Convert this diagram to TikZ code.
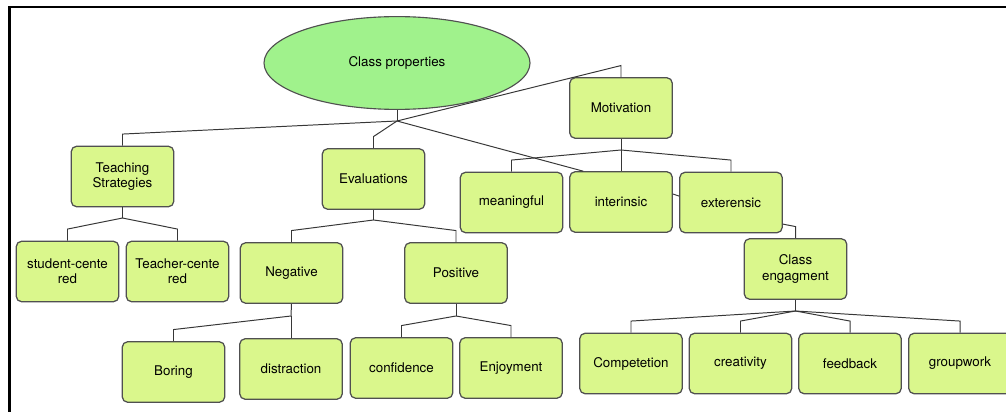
\documentclass[tikz,border=0pt]{standalone}
\usepackage{fontspec}
\setmainfont{TeX Gyre Heros}
\usepackage{tikz}
\usetikzlibrary{shapes.geometric}
\usetikzlibrary{calc}
\definecolor{boxfill}{RGB}{218,247,140}
\definecolor{ovalfill}{RGB}{160,242,140}
\definecolor{boxline}{RGB}{80,80,80}
\definecolor{wire}{RGB}{55,55,55}
\newcommand{\branch}[2]{\draw[link] (#1) -- ([yshift=2.9mm]#2.north) -- (#2.north);}

\begin{document}
\begin{tikzpicture}[x=0.25mm, y=-0.25mm, font=\fontsize{9.5}{10.8}\selectfont,
    box/.style = {draw=boxline, fill=boxfill, rounded corners=1.3mm, line width=0.9pt,
        minimum width=25.6mm, minimum height=15.1mm, align=center, inner sep=1pt},
    oval/.style = {draw=boxline, fill=ovalfill, ellipse, line width=0.8pt,
        minimum width=66.5mm, minimum height=23.2mm, inner sep=0pt},
    link/.style = {draw=wire, line width=0.7pt}]
    \useasboundingbox (0,0) rectangle (1006,412);
    % frame
    \draw[line width=1.5pt] (9.5,412) -- (9.5,7) -- (1006,7);

    % Nodes
    \node[oval] (root) at (397,63) {Class properties};
    \node[box] (ts) at (122.5,176.5) {Teaching\\Strategies};
    \node[box] (ev) at (373.5,179) {Evaluations};
    \node[box] (mot) at (621,108) {Motivation};
    \node[box] (mean) at (511.5,202.5) {meaningful};
    \node[box] (intr) at (621,202) {interinsic};
    \node[box] (extr) at (731,202.5) {exterensic};
    \node[box] (ceng) at (795.5,269) {Class\\engagment};
    \node[box] (stud) at (67.5,271.5) {student-cente\\red};
    \node[box] (teach) at (177.5,271.5) {Teacher-cente\\red};
    \node[box] (neg) at (291.5,273) {Negative};
    \node[box] (pos) at (456,273) {Positive};
    \node[box] (bor) at (173.5,372) {Boring};
    \node[box] (dist) at (291,369) {distraction};
    \node[box] (conf) at (401.5,368) {confidence};
    \node[box] (enj) at (511,368) {Enjoyment};
    \node[box] (comp) at (631,363.5) {Competetion};
    \node[box] (crea) at (740.5,363.5) {creativity};
    \node[box] (feed) at (850,363.5) {feedback};
    \node[box] (grp) at (960,363.5) {groupwork};

    % Junctions
    \coordinate (jroot) at (397,121);
    \coordinate (jts) at (122.5,218);
    \coordinate (jev) at (373.5,220);
    \coordinate (jmot) at (621,150);
    \coordinate (jneg) at (291,316);
    \coordinate (jpos) at (456,316);
    \coordinate (jceng) at (795.5,311);

    % Edges
    \draw[link] (root.south) -- (jroot);
    \branch{jroot}{ts}
    \branch{jroot}{ev}
    \branch{jroot}{mot}
    \draw[link] (jroot) -- ([xshift=3.5mm]intr.north west);

    \draw[link] (ts.south) -- (jts);
    \branch{jts}{stud}
    \branch{jts}{teach}

    \draw[link] (ev.south) -- (jev);
    \branch{jev}{neg}
    \branch{jev}{pos}

    \draw[link] (neg.south) -- (jneg);
    \branch{jneg}{bor}
    \draw[link] (jneg) -- (dist.north);

    \draw[link] (pos.south) -- (jpos);
    \branch{jpos}{conf}
    \branch{jpos}{enj}

    \draw[link] (mot.south) -- (jmot);
    \branch{jmot}{mean}
    \draw[link] (jmot) -- (intr.north);
    \branch{jmot}{extr}
    \draw[link] ([yshift=2mm]intr.east) -- ([yshift=1.6mm]extr.west);

    \draw[link] ([yshift=-5.4mm]extr.east) -- ([yshift=2.9mm]ceng.north) -- (ceng.north);
    \draw[link] (ceng.south) -- (jceng);
    \branch{jceng}{comp}
    \branch{jceng}{crea}
    \branch{jceng}{feed}
    \branch{jceng}{grp}
\end{tikzpicture}
\end{document}
